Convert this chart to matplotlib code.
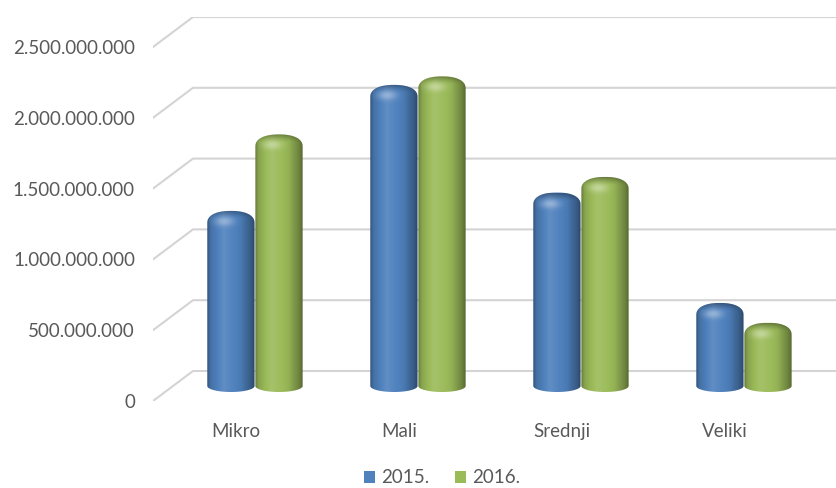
import numpy as np
import matplotlib.pyplot as plt
from matplotlib.path import Path
from matplotlib.patches import PathPatch, Patch
from matplotlib.colors import to_rgb

categories = ["Mikro", "Mali", "Srednji", "Veliki"]
series_names = ["2015.", "2016."]
values_2015 = [1.18e9, 2.07e9, 1.31e9, 0.53e9]
values_2016 = [1.72e9, 2.13e9, 1.42e9, 0.39e9]
y_ticks = [0, 500_000_000, 1_000_000_000, 1_500_000_000, 2_000_000_000, 2_500_000_000]

colors = {"2015.": "#4f81bd", "2016.": "#9bbb59"}
text_color = "#595959"
grid_color = "#d4d4d4"

plt.rcParams["font.family"] = ["Lato", "DejaVu Sans"]

W, H = 837, 488
fig = plt.figure(figsize=(W / 100, H / 100), dpi=100)
# axes: left edge = front plane of the 3d box, bottom = front zero line
ax = fig.add_axes([153 / W, 87 / H, 684 / W, 384 / H])

px_x = 1 / 163          # data units per pixel, x (one category = 163 px)
px_y = 1e9 / 141.6      # data units per pixel, y
depth_x = 40 * px_x     # 3d depth offset
depth_y = 30 * px_y

ax.set_xlim(0, 684 * px_x)
ax.set_ylim(0, 384 * px_y)
for s in ax.spines.values():
    s.set_visible(False)

# back wall grid with the diagonal "floor" edges
x_right = 684 * px_x
for v in y_ticks:
    ax.plot([0, depth_x, x_right], [v, v + depth_y, v + depth_y],
            color=grid_color, lw=1.5, solid_capstyle="round", zorder=1)

ax.set_yticks(y_ticks)
ax.set_yticklabels([f"{v:,}".replace(",", ".") for v in y_ticks])
ax.set_xticks([i + 0.51 for i in range(len(categories))])
ax.set_xticklabels(categories)
ax.tick_params(axis="y", length=0, pad=13, labelsize=13.5, labelcolor=text_color)
ax.tick_params(axis="x", length=0, pad=16, labelsize=13.5, labelcolor=text_color)


def shade(c, f):
    c = np.array(to_rgb(c))
    if f >= 0:
        return c + (1 - c) * f
    return c * (1 + f)


def body_gradient(c, n=200):
    t = np.linspace(0, 1, n)
    # dark left edge, bright near 35%, dark right edge
    f = np.interp(t, [0, 0.08, 0.35, 0.7, 0.92, 1.0],
                  [-0.35, -0.12, 0.1, -0.05, -0.3, -0.45])
    return np.array([shade(c, k) for k in f])[None, :, :]


def cap_overlay(c, n=120):
    # rgba overlay for the bevelled top: dark rim at the top, soft highlight
    xx, yy = np.meshgrid(np.linspace(-1, 1, n), np.linspace(-1, 1, n))
    light = shade(c, 0.45)
    hl = np.exp(-(((xx + 0.28) / 0.38) ** 2 + ((yy - 0.1) / 0.38) ** 2))
    rim = np.clip((yy - 0.3) / 0.7, 0, 1) ** 1.5
    a_dark = 0.35 * rim
    a_light = 0.85 * hl
    alpha = a_light + a_dark * (1 - a_light)
    w = np.where(alpha > 0, a_light / np.maximum(alpha, 1e-9), 0)
    img = np.zeros((n, n, 4))
    for k in range(3):
        img[:, :, k] = w * light[k]
    img[:, :, 3] = np.clip(alpha, 0, 1)
    return img


def superellipse(xc, yc, a, b, t0, t1, p=2.3, n=50):
    th = np.linspace(t0, t1, n)
    c, s = np.cos(th), np.sin(th)
    x = xc + a * np.sign(c) * np.abs(c) ** (2 / p)
    y = yc + b * np.sign(s) * np.abs(s) ** (2 / p)
    return np.column_stack([x, y])


def draw_cylinder(xc, val, color, width=0.29):
    base = depth_y / 2
    ry_b = 6 * px_y
    ry_t = 12 * px_y
    top = val + depth_y / 2 - 4 * px_y
    x0, x1 = xc - width / 2, xc + width / 2
    th = np.linspace(np.pi, 2 * np.pi, 40)
    bottom = np.column_stack([xc + width / 2 * np.cos(th), base + ry_b * np.sin(th)])
    upper = superellipse(xc, top, width / 2, ry_t, 0, np.pi)
    verts = np.vstack([[x0, top], bottom, [x1, top], upper])
    patch = PathPatch(Path(verts), facecolor="none", edgecolor="none", zorder=3)
    ax.add_patch(patch)
    im = ax.imshow(body_gradient(color), extent=(x0, x1, base - ry_b, top + ry_t),
                   aspect="auto", zorder=3, interpolation="bilinear")
    im.set_clip_path(patch)
    im2 = ax.imshow(cap_overlay(color), extent=(x0, x1, top - ry_t, top + ry_t),
                    aspect="auto", zorder=4, interpolation="bilinear", origin="lower")
    im2.set_clip_path(patch)


for i in range(len(categories)):
    draw_cylinder(i + 0.478, values_2015[i], colors["2015."])
    draw_cylinder(i + 0.773, values_2016[i], colors["2016."])

ax.set_xlim(0, 684 * px_x)
ax.set_ylim(0, 384 * px_y)

handles = [Patch(facecolor=colors[n], edgecolor="none") for n in series_names]
fig.legend(handles, series_names, loc="center", bbox_to_anchor=(0.528, 0.021),
           ncol=2, frameon=False, fontsize=13.5, labelcolor=text_color,
           handlelength=0.6, handleheight=0.6, handletextpad=0.3, columnspacing=1.4)

fig.savefig("out.png", dpi=100)
